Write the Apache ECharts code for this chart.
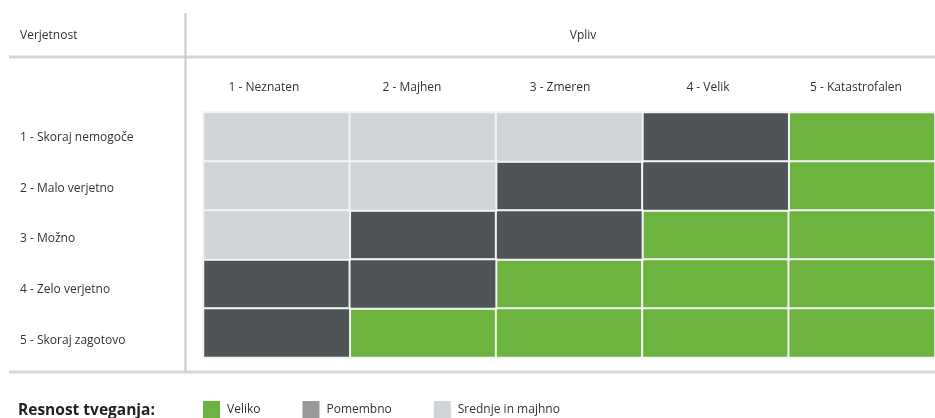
<!DOCTYPE html>
<html>
<head>
<meta charset="utf-8">
<script src="https://cdn.jsdelivr.net/npm/echarts@6/dist/echarts.min.js"></script>
<style>
html,body{margin:0;padding:0;background:#fff;}
#chart{width:935px;height:418px;}
</style>
</head>
<body>
<div id="chart"></div>
<script>
// Impact (Vpliv) categories - columns
var impactLabels = ['1 - Neznaten', '2 - Majhen', '3 - Zmeren', '4 - Velik', '5 - Katastrofalen'];
// Likelihood (Verjetnost) categories - rows
var likelihoodLabels = ['1 - Skoraj nemogoče', '2 - Malo verjetno', '3 - Možno', '4 - Zelo verjetno', '5 - Skoraj zagotovo'];
// Risk level names: 3 = Veliko, 2 = Pomembno, 1 = Srednje in majhno
var levelNames = ['Veliko', 'Pomembno', 'Srednje in majhno'];
var levelValues = [3, 2, 1];
// Risk level per row (likelihood) and column (impact)
var row1 = [1, 1, 1, 2, 3];
var row2 = [1, 1, 2, 2, 3];
var row3 = [1, 2, 2, 3, 3];
var row4 = [2, 2, 3, 3, 3];
var row5 = [2, 3, 3, 3, 3];
var riskRows = [row1, row2, row3, row4, row5];

var cellColors = ['#6cb33f', '#4f5457', '#d1d4d6'];
var legendColors = ['#6cb33f', '#999999', '#d1d4d6'];

var FONT = 'Open Sans';
var chart = echarts.init(document.getElementById('chart'), null, {renderer: 'canvas'});

var series = levelNames.map(function (name, i) {
  var data = [];
  riskRows.forEach(function (row, r) {
    row.forEach(function (v, c) {
      if (v === levelValues[i]) data.push([c, r, v]);
    });
  });
  return {
    name: name,
    type: 'heatmap',
    xAxisIndex: 0,
    yAxisIndex: 0,
    data: data,
    itemStyle: {color: cellColors[i], borderColor: '#f2f3f3', borderWidth: 2},
    emphasis: {disabled: true},
    animation: false
  };
});

var hiddenVal = {type: 'value', show: false, min: 0, max: 1};

var option = {
  animation: false,
  textStyle: {fontFamily: FONT},
  title: [
    {text: 'Verjetnost', left: 15, top: 25, textStyle: {fontFamily: FONT, fontSize: 12, fontWeight: 'normal', color: '#333'}},
    {text: 'Vpliv', left: 578, top: 25, textAlign: 'center', textStyle: {fontFamily: FONT, fontSize: 12, fontWeight: 'normal', color: '#333'}},
    {text: 'Resnost tveganja:', left: 13, top: 398, textStyle: {fontFamily: FONT, fontSize: 15.5, fontWeight: 'bold', color: '#222'}}
  ],
  legend: {
    left: 198, top: 396,
    itemWidth: 17, itemHeight: 17, itemGap: 42,
    icon: 'rect',
    textStyle: {fontFamily: FONT, fontSize: 12, color: '#333', padding: [6, 0, 0, 2]},
    data: levelNames.map(function (n, i) { return {name: n, itemStyle: {color: legendColors[i], borderWidth: 0}}; })
  },
  grid: [
    {left: 203.5, top: 112.5, width: 739, height: 245},
    {left: 190, top: 102, width: 740, height: 1},
    {left: 20, top: 112, width: 100, height: 253.75}
  ],
  xAxis: [
    {type: 'category', gridIndex: 0, data: impactLabels, show: false},
    {type: 'category', gridIndex: 1, data: impactLabels, position: 'top',
      axisLine: {show: false}, axisTick: {show: false}, splitLine: {show: false},
      axisLabel: {margin: 8, fontFamily: FONT, fontSize: 12, color: '#333'}},
    Object.assign({gridIndex: 2}, hiddenVal)
  ],
  yAxis: [
    {type: 'category', gridIndex: 0, data: likelihoodLabels, inverse: true, show: false},
    Object.assign({gridIndex: 1}, hiddenVal),
    {type: 'category', gridIndex: 2, data: likelihoodLabels, inverse: true,
      axisLine: {show: false}, axisTick: {show: false}, splitLine: {show: false},
      axisLabel: {inside: true, margin: 0, fontFamily: FONT, fontSize: 12, color: '#333'}}
  ],
  graphic: [
    {type: 'line', shape: {x1: 185.5, y1: 13, x2: 185.5, y2: 371}, style: {stroke: '#c8cacb', lineWidth: 2}, z: 10},
    {type: 'line', shape: {x1: 9, y1: 57, x2: 935, y2: 57}, style: {stroke: '#d3d5d6', lineWidth: 3}, z: 9},
    {type: 'line', shape: {x1: 9, y1: 372, x2: 935, y2: 372}, style: {stroke: '#d3d5d6', lineWidth: 3}, z: 9}
  ],
  series: series
};
chart.setOption(option);
</script>
</body>
</html>
